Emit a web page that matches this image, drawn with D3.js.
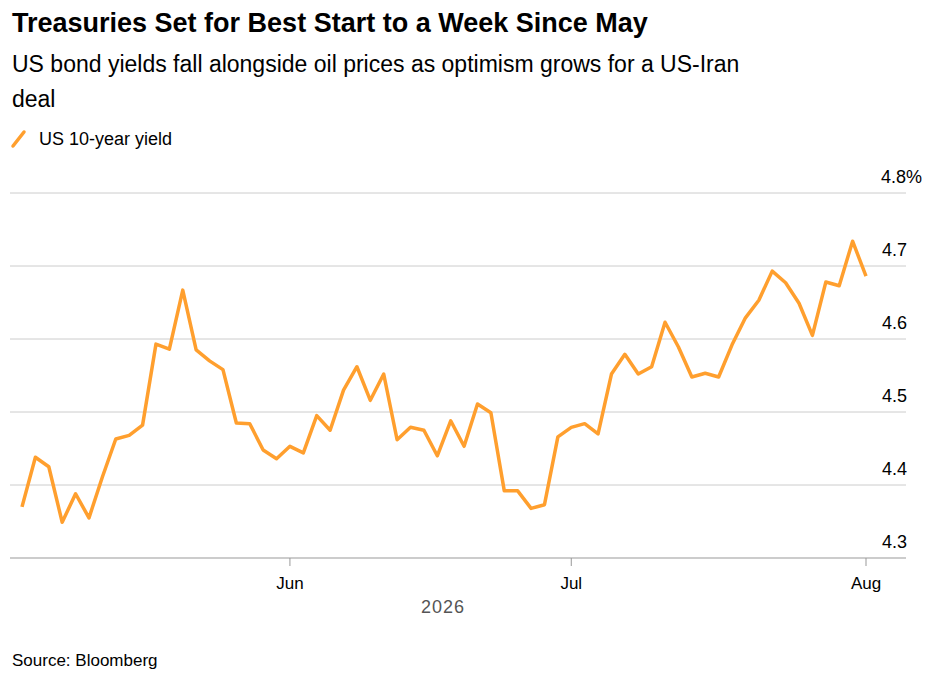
<!DOCTYPE html>
<html>
<head>
<meta charset="utf-8">
<script src="https://cdn.jsdelivr.net/npm/d3@7"></script>
<style>
  body { margin: 0; background: #fff; font-family: "Liberation Sans", Arial, sans-serif; }
</style>
</head>
<body>
<div id="chart"></div>
<script>
// US 10-year yield, one value per trading day from May 1 to Aug 3
const yields = [
  4.370, 4.438, 4.425, 4.349, 4.388, 4.355, 4.411, 4.463, 4.468, 4.482,
  4.593, 4.586, 4.667, 4.585, 4.570, 4.558, 4.485, 4.484, 4.448, 4.436,
  4.453, 4.444, 4.495, 4.475, 4.530, 4.562, 4.516, 4.552, 4.462, 4.479,
  4.475, 4.440, 4.488, 4.453, 4.511, 4.499, 4.392, 4.392, 4.368, 4.373,
  4.466, 4.479, 4.484, 4.470, 4.552, 4.579, 4.552, 4.562, 4.623, 4.589,
  4.548, 4.553, 4.548, 4.592, 4.629, 4.653, 4.693, 4.677, 4.649, 4.605,
  4.678, 4.673, 4.734, 4.686
];
const holidays = ["2026-05-25", "2026-06-19", "2026-07-03"];
const yTicks = [4.3, 4.4, 4.5, 4.6, 4.7, 4.8];
const monthTicks = ["2026-06-01", "2026-07-01", "2026-08-03"];
const monthLabels = ["Jun", "Jul", "Aug"];

// trading days from May 1, 2026
const fmt = d3.utcFormat("%Y-%m-%d");
const dates = [];
for (let d = new Date(Date.UTC(2026, 4, 1)); dates.length < yields.length; d = d3.utcDay.offset(d, 1)) {
  const day = d.getUTCDay();
  if (day !== 0 && day !== 6 && !holidays.includes(fmt(d))) dates.push(fmt(d));
}
const data = dates.map((d, i) => ({ date: d, value: yields[i] }));

const width = 935, height = 675;
const svg = d3.select("#chart").append("svg")
  .attr("width", width).attr("height", height);

svg.append("text").attr("x", 12).attr("y", 32)
  .style("font-size", "27px").style("font-weight", 700).attr("fill", "#000")
  .text("Treasuries Set for Best Start to a Week Since May");
svg.append("text").attr("x", 12).attr("y", 72)
  .style("font-size", "23px").attr("fill", "#000")
  .text("US bond yields fall alongside oil prices as optimism grows for a US-Iran");
svg.append("text").attr("x", 12).attr("y", 107)
  .style("font-size", "23px").attr("fill", "#000").text("deal");

svg.append("line").attr("x1", 13).attr("y1", 146).attr("x2", 24).attr("y2", 132)
  .attr("stroke", "#ff9f2e").attr("stroke-width", 3.5).attr("stroke-linecap", "round");
svg.append("text").attr("x", 39).attr("y", 145)
  .style("font-size", "18px").attr("fill", "#000").text("US 10-year yield");

const x = d3.scalePoint().domain(dates).range([22, 866]);
const y = d3.scaleLinear().domain([4.3, 4.8]).range([558, 193]);

// gridlines + labels
const g = svg.append("g");
g.selectAll(".grid").data(yTicks.slice(1)).enter().append("line")
  .attr("x1", 10).attr("x2", 906)
  .attr("y1", d => y(d)).attr("y2", d => y(d))
  .attr("stroke", "#cccccc").attr("stroke-width", 1);
g.selectAll(".ylab").data(yTicks).enter().append("text")
  .attr("x", d => d === 4.8 ? 922 : 907).attr("y", d => y(d) - 10)
  .attr("text-anchor", "end")
  .style("font-size", "18px").attr("fill", "#000")
  .text(d => d === 4.8 ? "4.8%" : d3.format(".1f")(d));

// baseline and month ticks
svg.append("line").attr("x1", 10).attr("x2", 906).attr("y1", 558).attr("y2", 558)
  .attr("stroke", "#999").attr("stroke-width", 1);
svg.selectAll(".tick").data(monthTicks).enter().append("line")
  .attr("x1", d => x(d)).attr("x2", d => x(d)).attr("y1", 558).attr("y2", 566)
  .attr("stroke", "#999");
svg.selectAll(".mlab").data(monthTicks).enter().append("text")
  .attr("x", d => x(d)).attr("y", 589).attr("text-anchor", "middle")
  .style("font-size", "17px").attr("fill", "#000")
  .text((d, i) => monthLabels[i]);
svg.append("text").attr("x", 443).attr("y", 613).attr("text-anchor", "middle")
  .style("font-size", "18px").style("letter-spacing", "1px").attr("fill", "#555").text("2026");

svg.append("path").datum(data)
  .attr("fill", "none").attr("stroke", "#ff9f2e").attr("stroke-width", 3.5)
  .attr("stroke-linejoin", "round")
  .attr("d", d3.line().x(d => x(d.date)).y(d => y(d.value)));

svg.append("text").attr("x", 12).attr("y", 666)
  .style("font-size", "17px").attr("fill", "#000").text("Source: Bloomberg");
</script>
</body>
</html>
